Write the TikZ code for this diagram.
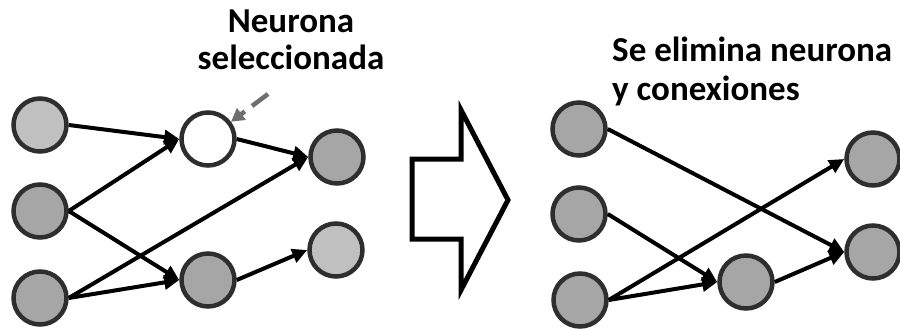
\documentclass[tikz,border=0pt]{standalone}
\usepackage{fontspec}
\setmainfont{Carlito}
\usetikzlibrary{arrows.meta}
\definecolor{lightn}{HTML}{C0C0C0}
\definecolor{midn}{HTML}{A6A6A6}
\definecolor{rimn}{HTML}{2E2E2E}
\definecolor{pointer}{HTML}{6E6E6E}
\tikzset{
  neuron/.style={circle, draw=rimn, line width=4.5pt, minimum size=53pt, inner sep=0pt},
  neuronlight/.style={neuron, fill=lightn},
  neuronmid/.style={neuron, fill=midn},
  neuronsel/.style={neuron, fill=white},
  link/.style={line width=4pt, -{Triangle[length=15pt,width=14pt]}},
  label/.style={anchor=base, inner sep=0pt, font=\fontsize{35}{40}\selectfont\bfseries},
  bigarrow/.style={line width=5pt, line join=miter}
}
\begin{document}
\begin{tikzpicture}[x=1pt, y=-1pt]
\useasboundingbox (0,0) rectangle (900,329);
\clip (0,0) rectangle (900,329);

% network before pruning
\node[neuronlight] (a1) at (40,125) {};
\node[neuronmid]   (a2) at (40,211) {};
\node[neuronmid]   (a3) at (40,298) {};
\node[neuronsel]   (b1) at (208,139) {};
\node[neuronmid]   (b2) at (208,280) {};
\node[neuronmid]   (c1) at (337,157) {};
\node[neuronlight] (c2) at (336,250) {};

\draw[link] (a1.east) -- (b1.west);
\draw[link] (a2.east) -- (b1.west);
\draw[link] (a2.east) -- (b2.west);
\draw[link] (a3.east) -- (c1.west);
\draw[link] (a3.east) -- (b2.west);
\draw[link] (b1.east) -- (c1.west);
\draw[link] (b2.east) -- (c2.west);

% caption and pointer to the chosen neuron
\node[label] (t1) at (291,33) {Neurona};
\node[label] (t2) at (291,70) {seleccionada};
\coordinate (ptr) at (268,94);
\draw[pointer, line width=4.5pt, dash pattern=on 20pt off 9pt,
      -{Triangle[length=13pt,width=14pt]}] (ptr) -- (b1);

% block arrow between the two states
\draw[bigarrow] (412,159) -- (461,159) -- (461,110) -- (508,200)
  -- (461,290) -- (461,239) -- (412,239) -- cycle;

% network after pruning
\node[neuronmid] (d1) at (579,129) {};
\node[neuronmid] (d2) at (579,214) {};
\node[neuronmid] (d3) at (580,300) {};
\node[neuronmid] (e)  at (746,282) {};
\node[neuronmid] (f1) at (873,159) {};
\node[neuronmid] (f2) at (873,252) {};

\draw[link] (d1.east) -- (f2.west);
\draw[link] (d2.east) -- (e.west);
\draw[link] (d3.east) -- (f1.west);
\draw[link] (d3.east) -- (e.west);
\draw[link] (e.east) -- (f2.west);

\node[label, anchor=base west] (t3) at (612,62) {Se elimina neurona};
\node[label, anchor=base west] (t4) at (612,100) {y conexiones};
\end{tikzpicture}
\end{document}
